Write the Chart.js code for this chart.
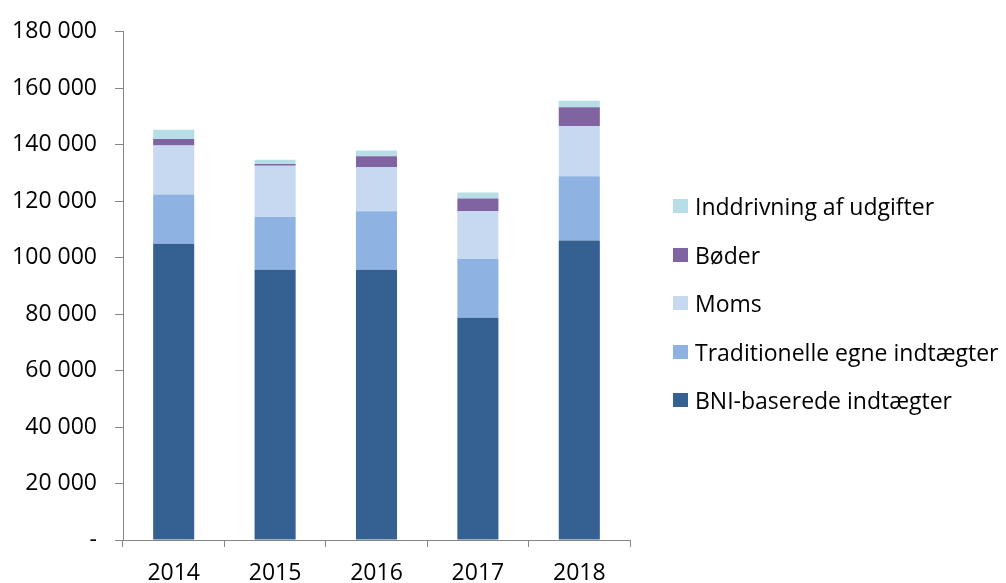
<!DOCTYPE html>
<html>
<head>
<meta charset="utf-8">
<script src="https://cdn.jsdelivr.net/npm/chart.js@4/dist/chart.umd.min.js"></script>
<style>
    html, body { margin: 0; padding: 0; background: #fff; }
    #wrap { width: 1006px; height: 583px; position: relative; overflow: hidden; }
    #legend {
        position: absolute;
        left: 673px;
        top: 182px;
        margin: 0;
        padding: 0;
        list-style: none;
        font-family: 'Open Sans', sans-serif;
        font-size: 23px;
        color: #000;
    }
    #legend li {
        height: 48.5px;
        display: flex;
        align-items: center;
        white-space: nowrap;
    }
    #legend .box {
        display: inline-block;
        width: 15px;
        height: 14px;
        margin-right: 7px;
        flex: none;
    }
</style>
</head>
<body>
<div id="wrap">
    <canvas id="revenueChart"></canvas>
    <ul id="legend"></ul>
</div>
<script>
const years = ['2014', '2015', '2016', '2017', '2018'];
const bniValues = [104900, 95700, 95700, 78700, 106100];
const traditionalValues = [17500, 18700, 20700, 20800, 22700];
const vatValues = [17300, 18200, 15700, 16900, 17800];
const fineValues = [2300, 600, 3800, 4600, 6700];
const recoveryValues = [3300, 1500, 2100, 2100, 2300];
const yTicks = [0, 20000, 40000, 60000, 80000, 100000, 120000, 140000, 160000, 180000];

const axisColor = '#868686';
const fontFamily = "'Open Sans', sans-serif";

function formatTick(value) {
    if (value === 0) return '-';
    return String(value).replace(/\B(?=(\d{3})+(?!\d))/g, ' ');
}

document.addEventListener('DOMContentLoaded', function() {
    const ctx = document.getElementById('revenueChart').getContext('2d');

    const chart = new Chart(ctx, {
        type: 'bar',
        data: {
            labels: years,
            datasets: [
                { label: 'BNI-baserede indtægter', data: bniValues, backgroundColor: '#356092' },
                { label: 'Traditionelle egne indtægter', data: traditionalValues, backgroundColor: '#8eb3e2' },
                { label: 'Moms', data: vatValues, backgroundColor: '#c7d9f0' },
                { label: 'Bøder', data: fineValues, backgroundColor: '#8063a1' },
                { label: 'Inddrivning af udgifter', data: recoveryValues, backgroundColor: '#b7dde7' }
            ]
        },
        options: {
            responsive: true,
            maintainAspectRatio: false,
            animation: false,
            barPercentage: 0.405,
            categoryPercentage: 1,
            layout: {
                padding: { top: 30, right: 376, bottom: 0, left: 12 }
            },
            plugins: {
                tooltip: { enabled: false },
                legend: { display: false }
            },
            scales: {
                x: {
                    stacked: true,
                    afterFit: function(axis) { axis.height = 43; },
                    grid: {
                        display: true,
                        drawOnChartArea: false,
                        drawTicks: true,
                        tickLength: 7,
                        color: axisColor,
                        offset: true
                    },
                    border: { color: axisColor, width: 1 },
                    ticks: {
                        color: '#000',
                        padding: 13,
                        maxRotation: 0,
                        font: { family: fontFamily, size: 23 }
                    }
                },
                y: {
                    stacked: true,
                    min: 0,
                    max: 180000,
                    afterFit: function(axis) { axis.width = 111; },
                    afterBuildTicks: function(axis) {
                        axis.ticks = yTicks.map(function(v) { return { value: v }; });
                    },
                    grid: {
                        display: true,
                        drawOnChartArea: false,
                        drawTicks: true,
                        tickLength: 8,
                        color: axisColor
                    },
                    border: { color: axisColor, width: 1 },
                    ticks: {
                        color: '#000',
                        padding: 18,
                        font: { family: fontFamily, size: 23 },
                        callback: function(value) { return formatTick(value); }
                    }
                }
            }
        }
    });

    // legend in the same order as the stack, top item first
    const legendEl = document.getElementById('legend');
    chart.data.datasets.slice().reverse().forEach(function(ds) {
        const li = document.createElement('li');
        const box = document.createElement('span');
        box.className = 'box';
        box.style.background = ds.backgroundColor;
        li.appendChild(box);
        li.appendChild(document.createTextNode(ds.label));
        legendEl.appendChild(li);
    });
});
</script>
</body>
</html>
